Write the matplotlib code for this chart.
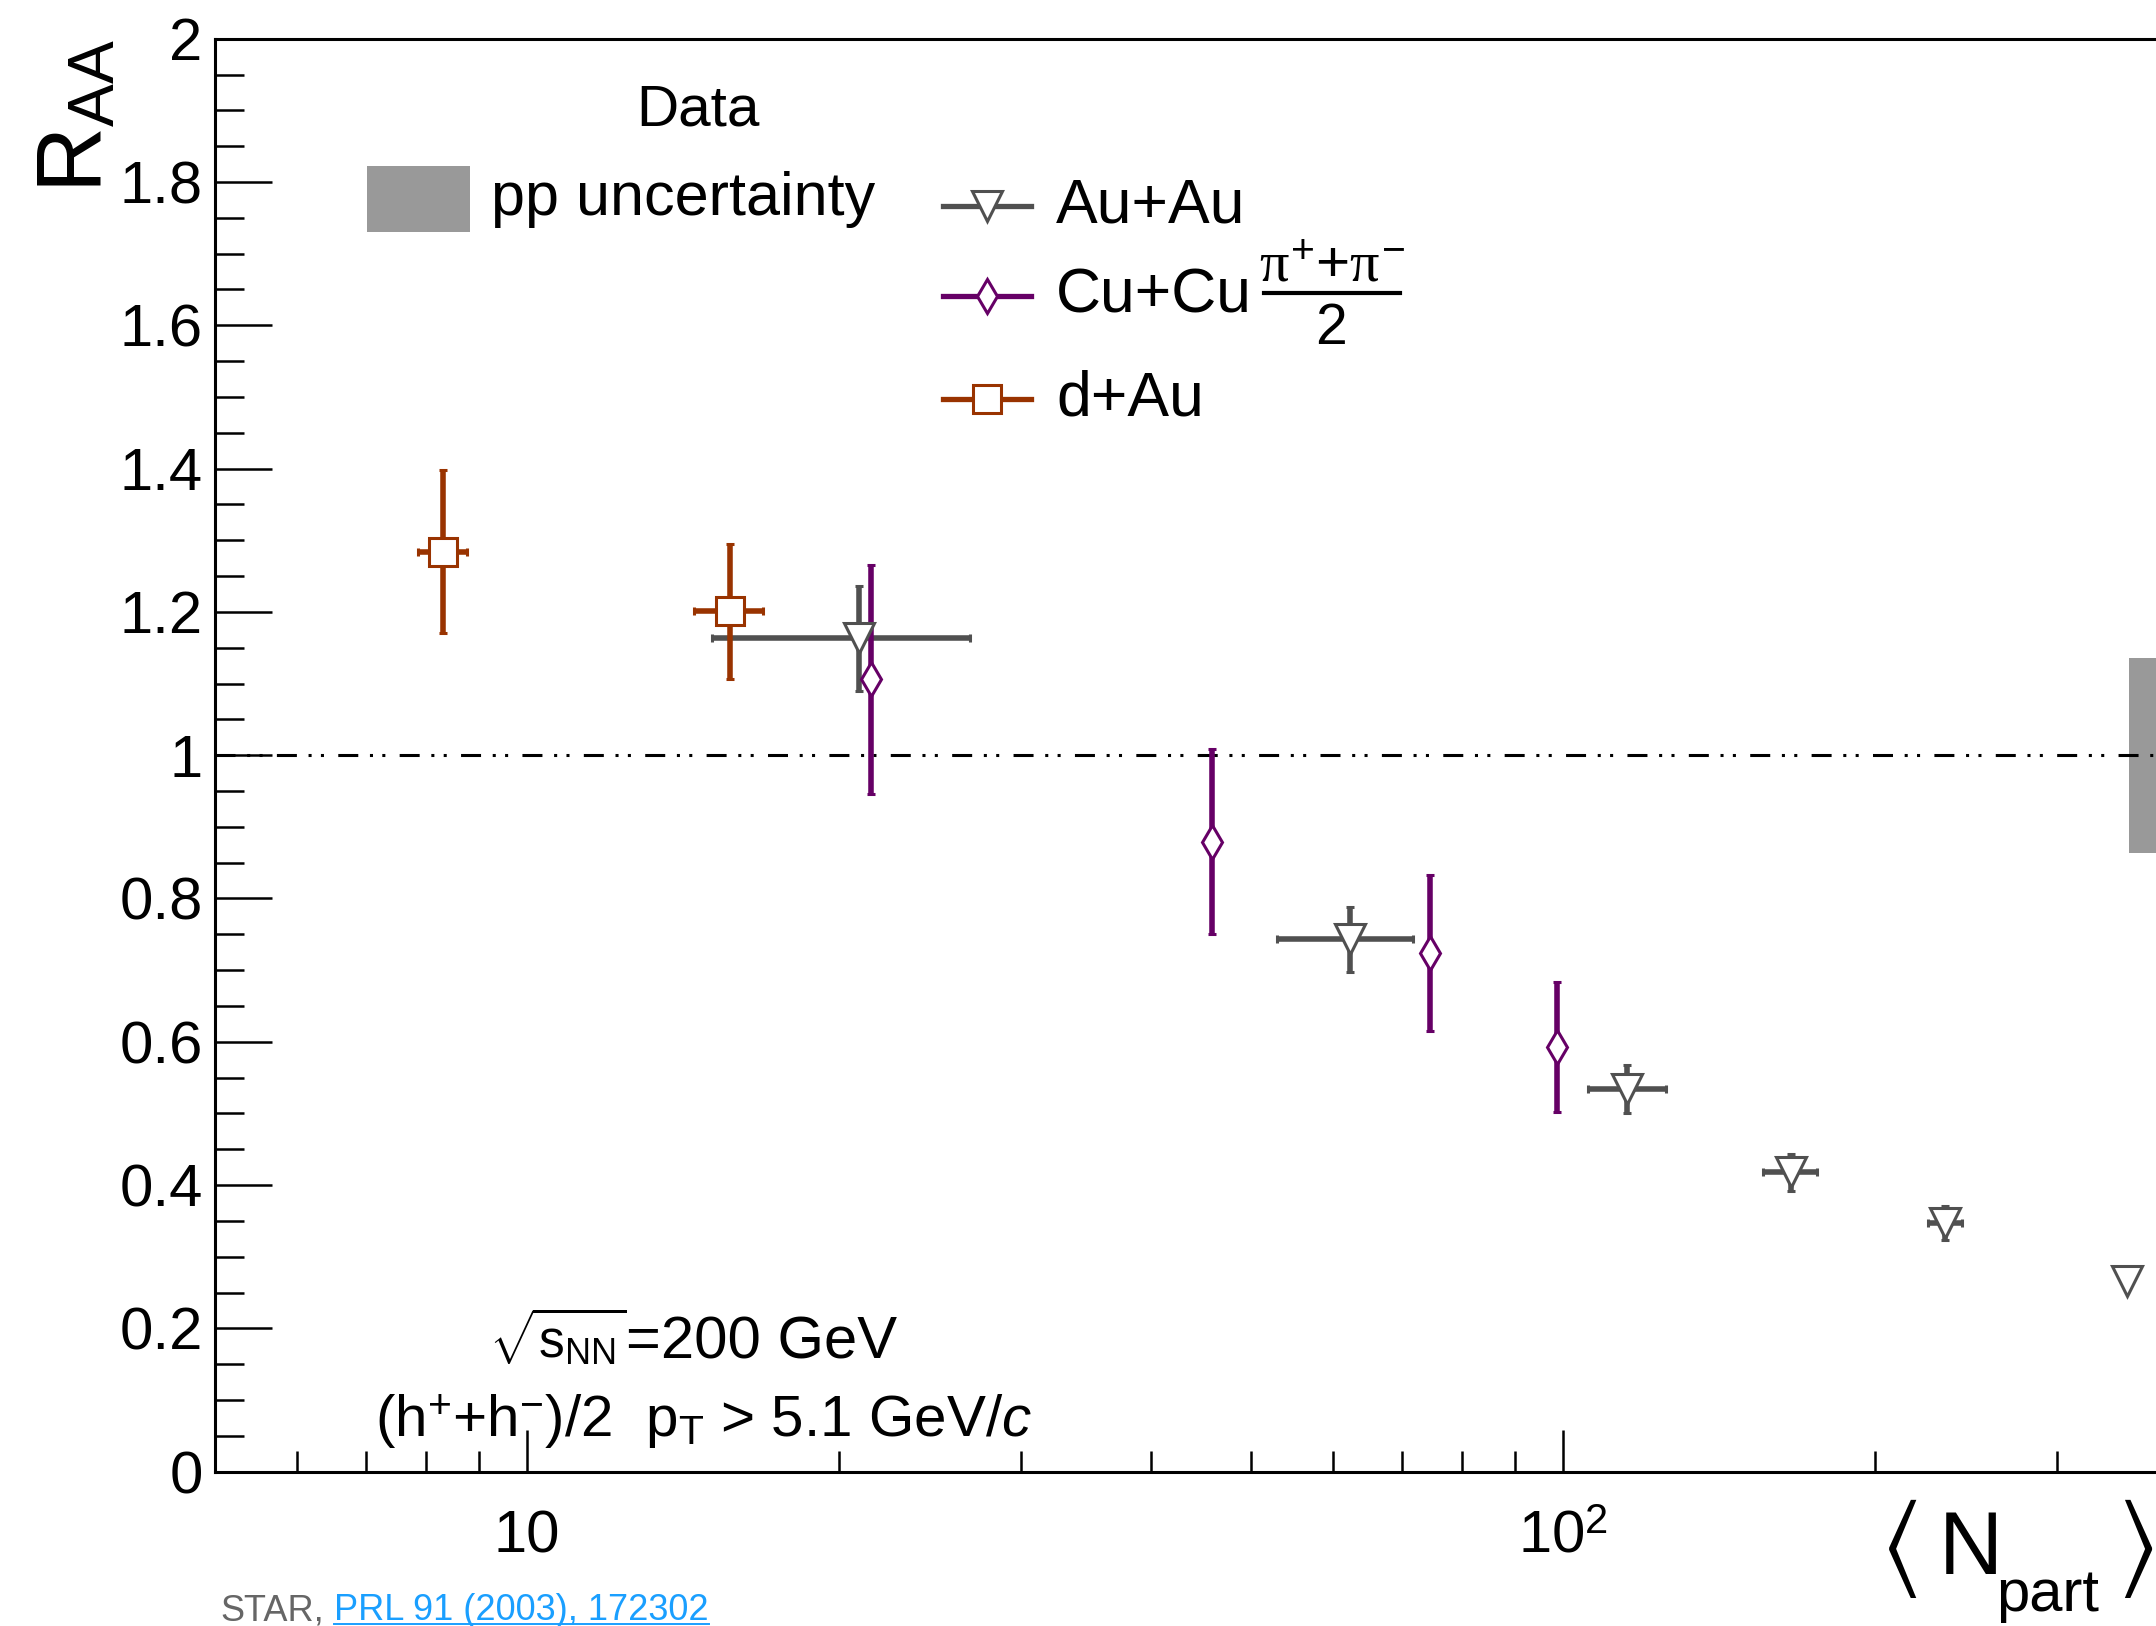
import matplotlib
matplotlib.use('Agg')
import matplotlib.pyplot as plt
from matplotlib.lines import Line2D
from matplotlib.patches import Rectangle
from matplotlib.ticker import FixedLocator, MultipleLocator, FuncFormatter

plt.rcParams['font.family'] = ['Liberation Sans', 'DejaVu Sans']
plt.rcParams['mathtext.fontset'] = 'custom'
plt.rcParams['mathtext.rm'] = 'Liberation Sans'
plt.rcParams['mathtext.it'] = 'Liberation Serif'
plt.rcParams['mathtext.sf'] = 'Liberation Sans:italic'
plt.rcParams['mathtext.bf'] = 'Liberation Sans:bold'
plt.rcParams['lines.scale_dashes'] = False

# Au+Au (h+ + h-)/2, pT > 5.1 GeV/c
aa_npart = [20.9, 62.3, 115.4, 166.0, 233.7, 350.5]
aa_npart_lo = [15.1, 53.0, 105.7, 156.0, 225.0, 350.5]
aa_npart_hi = [26.8, 71.7, 125.7, 176.0, 243.0, 350.5]
aa_raa = [1.163, 0.743, 0.534, 0.418, 0.347, 0.266]
aa_err = [0.073, 0.045, 0.033, 0.026, 0.024, 0.0]

# Cu+Cu (pi+ + pi-)/2
cu_npart = [21.5, 45.8, 74.4, 98.8]
cu_raa = [1.106, 0.879, 0.724, 0.593]
cu_err = [0.160, 0.129, 0.109, 0.091]

# d+Au
da_npart = [8.3, 15.7]
da_npart_err = [0.45, 1.2]
da_raa = [1.284, 1.201]
da_err = [0.114, 0.094]

pp_unc = 0.136
pp_npart = [352, 420]

xticks_major = [10, 100]
xticks_minor = [6, 7, 8, 9, 20, 30, 40, 50, 60, 70, 80, 90, 200, 300, 400]
xtick_labels = ['10', r'$\mathrm{10}^{2}$']

c_aa = '#505050'
c_cu = '#660066'
c_da = '#993300'
c_pp = '#999999'

ms_aa, ms_cu, ms_da = 21, 17, 20

W, H = 2156, 1626
fig = plt.figure(figsize=(W / 100, H / 100), dpi=100)


def fx(px):
    return px / W


def fy(py):
    return 1 - py / H


ax = fig.add_axes([fx(215), fy(1471.7), fx(2287) - fx(215), fy(38.7) - fy(1471.7)])
ax.set_xscale('log')
ax.set_xlim(5, 500)
ax.set_ylim(0, 2)

for s in ax.spines.values():
    s.set_linewidth(2.2)

ax.xaxis.set_major_locator(FixedLocator(xticks_major))
ax.xaxis.set_minor_locator(FixedLocator(xticks_minor))
ax.set_xticklabels(xtick_labels)
ax.xaxis.set_minor_formatter(FuncFormatter(lambda v, p: ''))
ax.yaxis.set_major_locator(MultipleLocator(0.2))
ax.yaxis.set_minor_locator(MultipleLocator(0.05))
ax.yaxis.set_major_formatter(FuncFormatter(lambda v, p: '%g' % round(v, 2)))

ax.tick_params(axis='x', which='major', direction='in', length=30, width=1.8,
               labelsize=43, pad=58, top=False)
ax.tick_params(axis='x', which='minor', direction='in', length=15, width=1.8, top=False)
ax.tick_params(axis='y', which='major', direction='in', length=41, width=1.8,
               labelsize=43, pad=9, right=False)
ax.tick_params(axis='y', which='minor', direction='in', length=21, width=1.8, right=False)
for t in ax.xaxis.get_major_ticks():
    t.label1.set_va('baseline')

# pp normalisation uncertainty
ax.add_patch(Rectangle((pp_npart[0], 1 - pp_unc), pp_npart[1] - pp_npart[0], 2 * pp_unc,
                       facecolor=c_pp, edgecolor='none', zorder=1))

# unity line
ln, = ax.plot([5, 500], [1, 1], color='black', lw=2.2, zorder=2)
ln.set_dashes([14.4, 8.4, 2.2, 6.7, 2.2, 10.3])

eb = dict(elinewidth=4, capsize=3, capthick=4.2, mfc='white', mew=2.2, zorder=4)
ax.errorbar(aa_npart, aa_raa,
            xerr=[[a - b for a, b in zip(aa_npart, aa_npart_lo)],
                  [b - a for a, b in zip(aa_npart, aa_npart_hi)]],
            yerr=aa_err, fmt='v', ms=ms_aa, color=c_aa, mec=c_aa, **eb)
ax.errorbar(cu_npart, cu_raa, yerr=cu_err, fmt='d', ms=ms_cu, color=c_cu, mec=c_cu, **eb)
ax.errorbar(da_npart, da_raa, xerr=da_npart_err, yerr=da_err, fmt='s', ms=ms_da,
            color=c_da, mec=c_da, **eb)

# legend: data / pp uncertainty
fig.text(fx(698), fy(110), 'Data', fontsize=42, ha='center', va='center')
fig.add_artist(Rectangle((fx(367), fy(232)), fx(470) - fx(367), fy(166) - fy(232),
                         transform=fig.transFigure, facecolor=c_pp, edgecolor='none'))
fig.text(fx(491), fy(199), 'pp uncertainty', fontsize=44, ha='left', va='center')

# legend: systems
entries = [(206, c_aa, 'v', ms_aa, 'Au+Au'),
           (296, c_cu, 'd', ms_cu, 'Cu+Cu'),
           (399, c_da, 's', ms_da, 'd+Au')]
for yy, col, mk, ms, lab in entries:
    fig.add_artist(Line2D([fx(943), fx(1031)], [fy(yy), fy(yy)], transform=fig.transFigure,
                          color=col, lw=3.8))
    fig.add_artist(Line2D([fx(987)], [fy(yy)], transform=fig.transFigure, marker=mk, ms=ms,
                          mfc='white', mec=col, mew=2.2, lw=0))
    fig.text(fx(1056), fy(yy), lab, fontsize=45, ha='left', va='center')
# (pi+ + pi-)/2 written as a stacked fraction
fig.text(fx(1332), fy(282), r'$\pi^{+}$+$\pi^{-}$', fontsize=42, ha='center', va='baseline')
fig.add_artist(Line2D([fx(1264), fx(1400)], [fy(293), fy(293)], transform=fig.transFigure,
                      color='black', lw=3))
fig.text(fx(1331), fy(344), '2', fontsize=41, ha='center', va='baseline')

# collision info
fig.text(fx(626), fy(1358), '=200 GeV', fontsize=43, ha='left', va='baseline')
fig.text(fx(626), fy(1358), r'$\sqrt{\mathrm{s}_{\mathrm{NN}}}$', fontsize=37,
         ha='right', va='baseline')
fig.text(fx(375), fy(1437), r'(h$^{+}$+h$^{-}$)/2  p$_{\mathrm{T}}$ > 5.1 GeV/$\mathsf{c}$',
         fontsize=42, ha='left', va='baseline')

# axis titles
fig.text(fx(78), fy(38.7), r'$\mathrm{R}_{\mathrm{AA}}$', fontsize=66, rotation=90,
         ha='center', va='top')
fig.text(fx(1880), fy(1548), r'$\langle$', fontsize=76, ha='left', va='center',
         math_fontfamily='stix')
fig.text(fx(1939), fy(1574), 'N', fontsize=64, ha='left', va='baseline')
fig.text(fx(1996), fy(1611), 'part', fontsize=43, ha='left', va='baseline')
fig.text(fx(2153), fy(1548), r'$\rangle$', fontsize=76, ha='right', va='center',
         math_fontfamily='stix')

# reference
fig.text(fx(220), fy(1620), 'STAR,', fontsize=26, color='#666666', ha='left', va='baseline')
ref = fig.text(fx(334), fy(1620), 'PRL 91 (2003), 172302', fontsize=26, color='#1a9fff',
               ha='left', va='baseline')
fig.canvas.draw()
bb = ref.get_window_extent().transformed(fig.transFigure.inverted())
fig.add_artist(Line2D([bb.x0, bb.x1], [fy(1624), fy(1624)], transform=fig.transFigure,
                      color='#1a9fff', lw=1.4))

fig.savefig('out.png', dpi=100)
